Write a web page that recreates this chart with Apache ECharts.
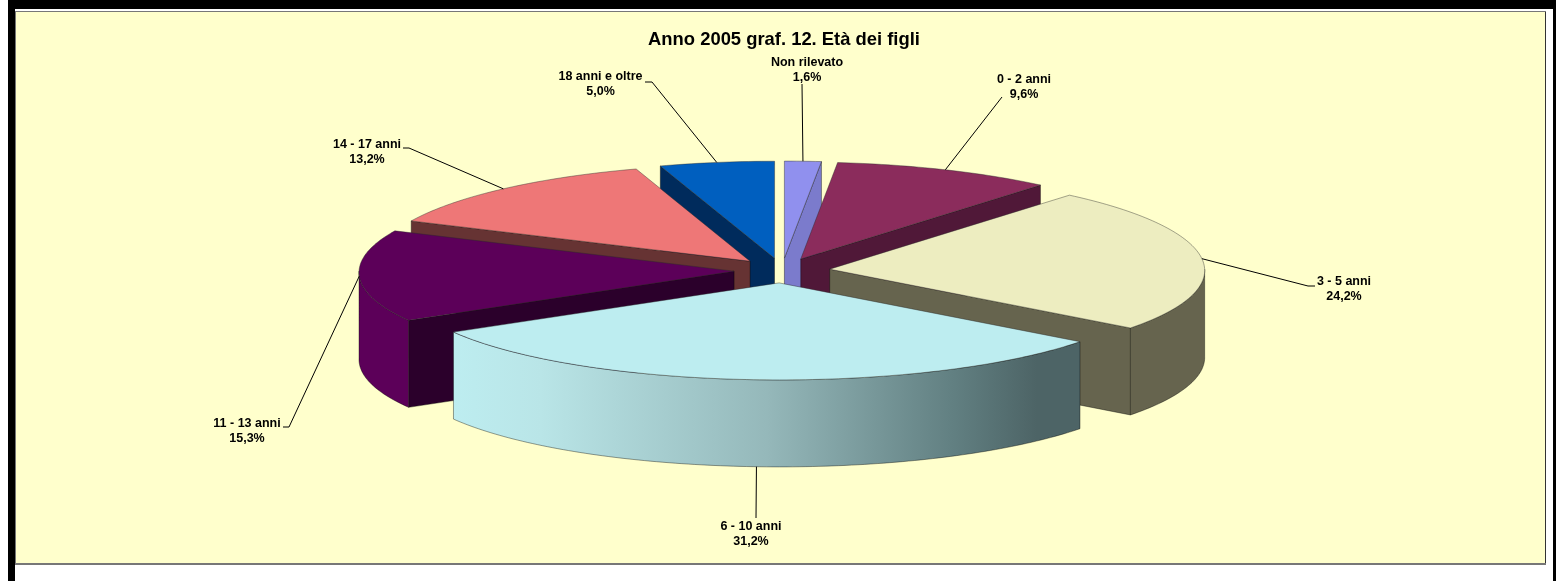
<!DOCTYPE html>
<html>
<head>
<meta charset="utf-8">
<title>Anno 2005 graf. 12. Età dei figli</title>
<script src="https://cdn.jsdelivr.net/npm/echarts@6/dist/echarts.min.js"></script>
<style>
  html, body { margin: 0; padding: 0; background: #fff; }
  #myChart { width: 1556px; height: 581px; }
</style>
</head>
<body>
<div id="myChart"></div>
<script>
  // dati
  var categories = ['Non rilevato', '0 - 2 anni', '3 - 5 anni', '6 - 10 anni', '11 - 13 anni', '14 - 17 anni', '18 anni e oltre'];
  var percentages = [1.6, 9.6, 24.2, 31.2, 15.3, 13.2, 5.0];

  // colori: faccia superiore, pareti
  var topColors = ['#9090EE', '#8B2C5C', '#EDEDC0', '#BDEDF0', '#5C0059', '#EE7777', '#005FBF'];
  var wallColors = ['#7B7BCC', '#501838', '#66644E', '#4D6466', '#2B002B', '#663333', '#002B5C'];
  var rimColors = ['#7B7BCC', '#501838', '#66644E', null, '#5C0059', '#663333', '#002B5C'];

  // posizione delle etichette (centro del testo) e gomito della linea guida
  var labelCenters = [[807, 70], [1024, 87], [1344, 289], [751, 534], [247, 431], [367, 152], [600.5, 84]];
  var leaderElbows = [
    [[802, 84]],
    [[1002, 97]],
    [[1315, 286], [1308, 286]],
    [[756, 518]],
    [[283, 427], [289, 427]],
    [[403, 148], [409, 148]],
    [[645, 82], [652, 82]]
  ];

  // geometria della torta
  var CX = 782, CY = 270.5, RX = 375, RY = 97, DEPTH = 87, EXPLODE = 0.128;
  var PERSP = 0.012;
  var total = percentages.reduce(function (a, b) { return a + b; }, 0);

  function project(t, r, ox, oy, drop) {
    var x = ox + r * RX * Math.sin(t);
    var y = oy - r * RY * Math.cos(t);
    var k = 1 + PERSP * (y - CY) / RY;
    return [CX + (x - CX) * k, y + (drop || 0)];
  }

  function arcPoints(a0, a1, ox, oy, drop) {
    var pts = [];
    var n = Math.max(2, Math.ceil(Math.abs(a1 - a0) / (Math.PI / 180)));
    for (var i = 0; i <= n; i++) {
      pts.push(project(a0 + (a1 - a0) * i / n, 1, ox, oy, drop));
    }
    return pts;
  }

  function wall(a, ox, oy, color, z2) {
    var rim = project(a, 1, ox, oy);
    var apex = project(a, 0, ox, oy);
    return {
      type: 'polygon',
      z2: z2,
      shape: { points: [apex, rim, [rim[0], rim[1] + DEPTH], [apex[0], apex[1] + DEPTH]] },
      style: { fill: color, stroke: 'rgba(0,0,0,0.55)', lineWidth: 0.7 }
    };
  }

  function renderSlice(params, api) {
    var i = params.dataIndex;
    var before = 0;
    for (var j = 0; j < i; j++) before += percentages[j];
    var a0 = before / total * 2 * Math.PI;
    var a1 = (before + api.value(0)) / total * 2 * Math.PI;
    var mid = (a0 + a1) / 2;
    var ox = CX + EXPLODE * RX * Math.sin(mid);
    var oy = CY - EXPLODE * RY * Math.cos(mid);
    // le fette davanti coprono quelle dietro
    var base = Math.round((1 - Math.cos(mid)) * 50) * 10;
    var children = [];

    if (a0 > Math.PI) children.push(wall(a0, ox, oy, wallColors[i], base));
    if (a1 < Math.PI) children.push(wall(a1, ox, oy, wallColors[i], base));

    // parete esterna, solo la parte rivolta verso chi guarda
    var f0 = Math.max(a0, Math.PI / 2), f1 = Math.min(a1, Math.PI * 3 / 2);
    if (f1 > f0) {
      var upper = arcPoints(f0, f1, ox, oy, 0);
      var lower = arcPoints(f1, f0, ox, oy, DEPTH);
      var fill = rimColors[i] || new echarts.graphic.LinearGradient(0, 0, 1, 0, [
        { offset: 0, color: '#BDEDF0' },
        { offset: 0.14, color: '#B9E5E7' },
        { offset: 0.5, color: '#95B8BA' },
        { offset: 0.8, color: '#617F81' },
        { offset: 0.93, color: '#4D6466' },
        { offset: 1, color: '#4D6466' }
      ]);
      children.push({
        type: 'polygon',
        z2: base + 1,
        shape: { points: upper.concat(lower) },
        style: { fill: fill, stroke: 'rgba(0,0,0,0.55)', lineWidth: 0.7 }
      });
    }

    // faccia superiore
    var topPts = [project(0, 0, ox, oy)].concat(arcPoints(a0, a1, ox, oy, 0));
    children.push({
      type: 'polygon',
      z2: base + 2,
      shape: { points: topPts },
      style: { fill: topColors[i], stroke: 'rgba(40,40,40,0.6)', lineWidth: 0.7 }
    });

    // linea guida: sulle fette davanti parte dal bordo inferiore della parete
    var anchor = project(mid, 1, ox, oy, Math.cos(mid) < -0.5 ? DEPTH : 0);
    children.push({
      type: 'polyline',
      z2: 5000,
      shape: { points: leaderElbows[i].concat([anchor]) },
      style: { fill: null, stroke: '#000', lineWidth: 1 }
    });
    children.push({
      type: 'text',
      z2: 5001,
      x: labelCenters[i][0],
      y: labelCenters[i][1],
      style: {
        text: categories[i] + '\n' + api.value(0).toFixed(1).replace('.', ',') + '%',
        font: 'bold 12.5px "Liberation Sans", Arial, sans-serif',
        fill: '#000',
        lineHeight: 15,
        align: 'center',
        verticalAlign: 'middle'
      }
    });
    return { type: 'group', children: children };
  }

  var myChart = echarts.init(document.getElementById('myChart'), null, { renderer: 'canvas' });

  myChart.setOption({
    animation: false,
    backgroundColor: '#fff',
    title: {
      text: 'Anno 2005 graf. 12. Età dei figli',
      left: 779,
      top: 26,
      textAlign: 'center',
      textStyle: { fontFamily: '"Liberation Sans", Arial, sans-serif', fontSize: 18.4, fontWeight: 'bold', color: '#000' }
    },
    tooltip: { show: false },
    graphic: [
      // cornice nera e area del grafico
      { type: 'rect', z: -10, shape: { x: 8, y: 0, width: 1548, height: 581 }, style: { fill: '#000' } },
      { type: 'rect', z: -9, shape: { x: 15, y: 9, width: 1538, height: 572 }, style: { fill: '#fff' } },
      { type: 'rect', z: -8, shape: { x: 15, y: 11, width: 1531, height: 554 }, style: { fill: '#777' } },
      { type: 'rect', z: -7, shape: { x: 16, y: 12, width: 1529, height: 551 }, style: { fill: '#FFFFCC' } },
      { type: 'rect', z: -7, shape: { x: 1545, y: 12, width: 1, height: 551 }, style: { fill: '#333' } }
    ],
    series: [{
      type: 'custom',
      coordinateSystem: 'none',
      renderItem: renderSlice,
      silent: true,
      data: percentages.map(function (v) { return [v]; })
    }]
  });
</script>
</body>
</html>
